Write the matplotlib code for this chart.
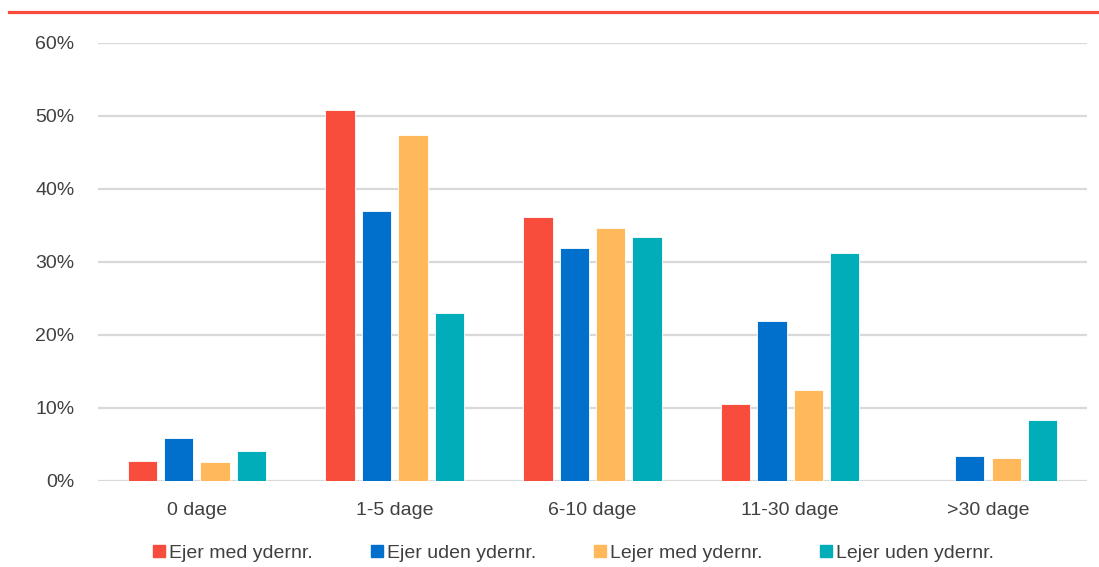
import numpy as np
import matplotlib
matplotlib.use("Agg")
import matplotlib.pyplot as plt
from matplotlib.lines import Line2D

plt.rcParams["font.family"] = ["Liberation Sans", "DejaVu Sans"]

categories = ["0 dage", "1-5 dage", "6-10 dage", "11-30 dage", ">30 dage"]
series_names = ["Ejer med ydernr.", "Ejer uden ydernr.", "Lejer med ydernr.", "Lejer uden ydernr."]
ejer_med = [2.7, 50.8, 36.1, 10.6, 0.0]
ejer_uden = [5.9, 37.0, 31.9, 21.9, 3.4]
lejer_med = [2.6, 47.4, 34.7, 12.4, 3.2]
lejer_uden = [4.1, 23.0, 33.4, 31.2, 8.3]
yticks = [0, 10, 20, 30, 40, 50, 60]

colors = ["#F84C3C", "#0070CC", "#FFB95A", "#00ADB9"]
series = [ejer_med, ejer_uden, lejer_med, lejer_uden]

fig = plt.figure(figsize=(10.99, 5.67), dpi=100)
ax = fig.add_axes([0.0892, 0.1517, 0.8998, 0.7725])

x = np.arange(len(categories))
step = 0.184
width = 0.148
for i, (vals, col, name) in enumerate(zip(series, colors, series_names)):
    ax.bar(x + (i - 1.5) * step, vals, width, color=col, label=name,
           edgecolor="white", linewidth=0.6, zorder=3)

ax.set_xlim(-0.5, len(categories) - 0.5)
ax.set_ylim(0, 60)
ax.set_yticks(yticks)
ax.set_yticklabels([f"{t}%" for t in yticks])
ax.set_xticks(x)
ax.set_xticklabels(categories)
ax.tick_params(axis="both", length=0, labelsize=14, colors="#404040")
ax.tick_params(axis="y", pad=17)
ax.tick_params(axis="x", pad=15)
ax.yaxis.grid(True, color="#d9d9d9", linewidth=1.6, zorder=0)
for s in ax.spines.values():
    s.set_visible(False)

# accent rule across the top
fig.add_artist(Line2D([0.008, 1.0], [0.979, 0.979], color="#F84C3C", linewidth=2.3,
                      transform=fig.transFigure))

handles = [plt.Rectangle((0, 0), 1, 1, color=c) for c in colors]
fig.legend(handles, series_names, loc="center", bbox_to_anchor=(0.522, 0.024),
           ncol=4, frameon=False, fontsize=14, handlelength=0.6, handleheight=0.6,
           handletextpad=0.2, columnspacing=3.0, labelcolor="#404040")

fig.savefig("out.png", dpi=100)
